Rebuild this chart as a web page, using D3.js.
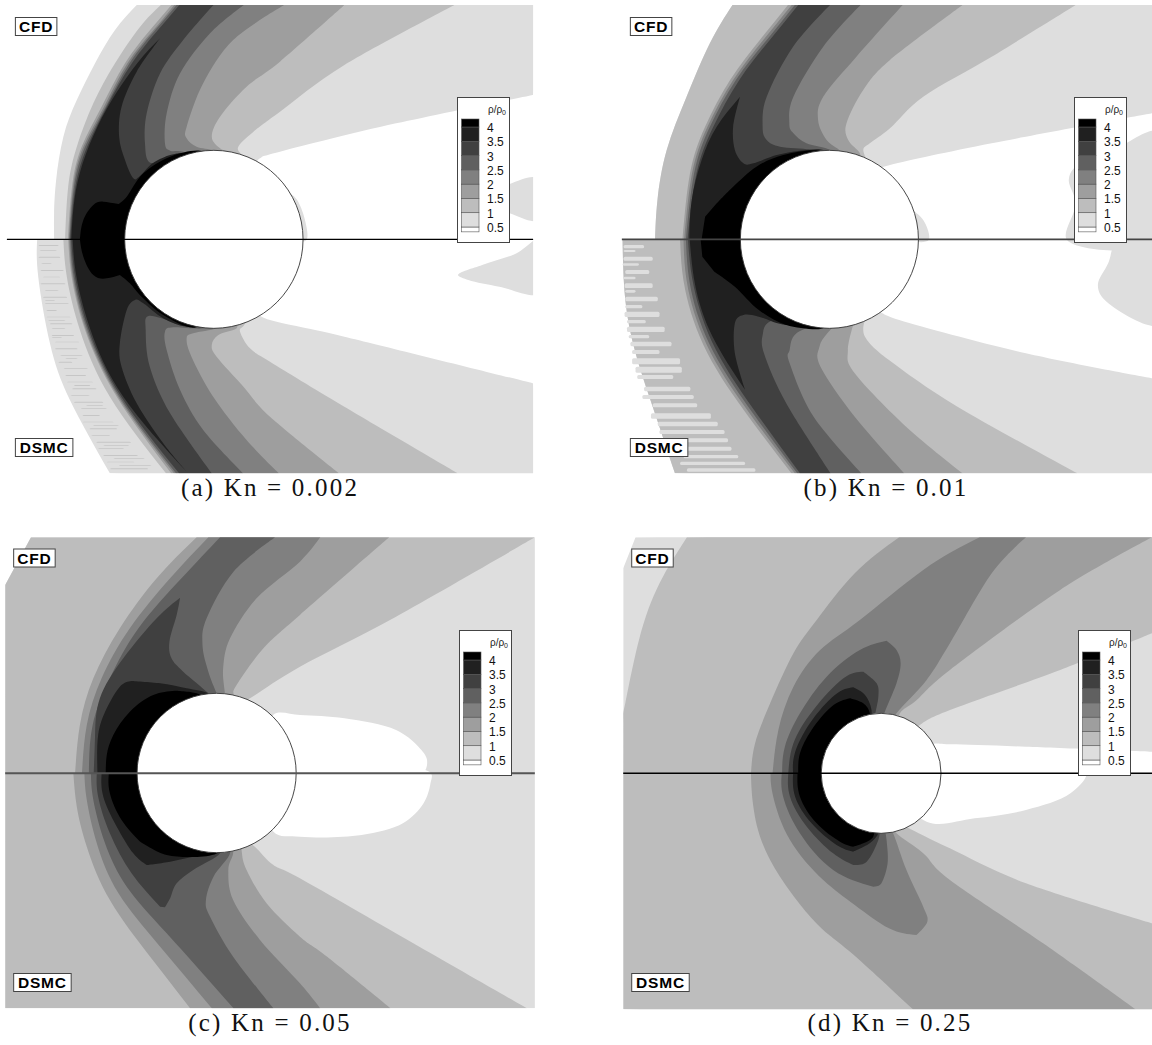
<!DOCTYPE html>
<html><head><meta charset="utf-8">
<script src="https://cdnjs.cloudflare.com/ajax/libs/d3/7.8.5/d3.min.js"></script>
<style>html,body{margin:0;padding:0;background:#fff}svg{display:block}</style>
</head><body><svg id="c" width="1152" height="1045"></svg>
<script>
// Density levels and their greys
const levels=[0.5,1,1.5,2,2.5,3,3.5,4];
const greys=["#ffffff","#dedede","#bdbdbd","#9e9e9e","#808080","#606060","#404040","#202020","#000000"];
const legendTicks=["4","3.5","3","2.5","2","1.5","1","0.5"];
// Contour rows: [level, shock-side curve, wake-side curve, optional corner]; digitised grid units
const aTop=[
[0.5,[[397,15],[334,90],[276,190],[223,300],[184,410],[163,540],[157,640],[157,718]],[[1548,285],[1150,370],[813,455],[755,475],[740,500]],[[1600,0]]],
[1,[[467,15],[407,80],[334,190],[271,310],[223,440],[198,560],[189,718]],[[1320,15],[1000,195],[813,335],[736,395],[692,440],[702,465],[720,490]]],
[1.5,[[498,15],[440,85],[363,190],[295,320],[237,440],[209,560],[197,718]],[[1000,15],[813,185],[716,260],[639,350],[615,410],[639,445],[668,460],[680,490]]],
[2,[[506,15],[450,85],[370,190],[302,320],[242,440],[212,560],[200,718]],[[825,15],[677,120],[590,250],[542,380],[542,415],[571,440],[620,452],[640,480]]],
[2.5,[[513,15],[455,85],[376,190],[307,320],[247,440],[215,560],[202,718]],[[708,15],[610,100],[523,220],[484,340],[479,430],[494,452],[532,455],[600,480]]],
[3,[[521,15],[463,85],[383,190],[310,320],[253,440],[219,560],[204,718]],[[620,15],[532,120],[465,220],[426,340],[421,430],[436,488],[503,470],[600,480]]],
[3.5,[[465,115],[402,185],[337,280],[283,380],[240,490],[216,600],[207,718]],[[465,115],[397,215],[353,320],[346,410],[363,480],[387,535],[407,527],[450,485],[523,460],[600,480]]],
[4,[[344,612],[300,605],[271,615],[242,660],[232,718]],[[344,612],[368,590],[416,520],[494,470],[581,452],[620,490]]]
];
const aBottom=[
[0.5,[[108,718],[111,830],[145,1030],[203,1200],[319,1420]],[[1548,1150],[1000,1010],[784,960],[740,930]],[[1600,1500]]],
[1,[[184,718],[194,830],[232,990],[319,1190],[482,1420]],[[1330,1420],[1000,1220],[784,1085],[726,1045],[697,995],[707,978],[720,960]]],
[1.5,[[198,718],[208,830],[247,990],[339,1190],[497,1420]],[[985,1420],[784,1250],[707,1160],[629,1070],[615,1035],[634,1005],[687,985],[680,960]]],
[2,[[201,718],[211,830],[250,990],[343,1190],[505,1420]],[[810,1420],[716,1320],[619,1190],[556,1070],[542,1015],[561,1000],[629,985],[640,960]]],
[2.5,[[204,718],[214,830],[254,990],[347,1190],[511,1420]],[[706,1420],[590,1290],[523,1170],[484,1050],[479,995],[503,982],[590,985],[600,960]]],
[3,[[207,718],[218,830],[258,990],[352,1190],[520,1420]],[[615,1420],[494,1240],[435,1100],[423,990],[431,948],[500,965],[560,980],[600,960]]],
[3.5,[[211,718],[222,830],[263,990],[358,1190],[542,1415]],[[542,1415],[474,1330],[397,1210],[353,1100],[348,1030],[368,930],[392,900],[416,910],[474,955],[542,980],[600,960]]],
[4,[[232,718],[242,770],[271,825],[310,835],[348,825]],[[348,825],[377,850],[411,890],[474,945],[560,983],[620,950]]]
];
const bTop=[
[0.5,[[343,15],[277,130],[209,290],[151,450],[124,600],[117,718]],[[1568,340],[1100,430],[803,495],[770,515]],[[1620,0]]],
[1,[[343,15],[277,130],[209,290],[151,450],[124,600],[117,718]],[[1345,15],[1100,170],[900,290],[803,385],[744,430],[725,450],[740,490]]],
[1.5,[[505,15],[423,120],[336,240],[263,380],[219,520],[197,718]],[[1015,15],[803,180],[725,270],[676,370],[681,420],[715,460],[710,490]]],
[2,[[516,15],[433,120],[345,240],[270,380],[225,520],[202,718]],[[840,15],[705,170],[608,290],[593,360],[618,420],[657,452],[670,480]]],
[2.5,[[525,15],[443,120],[353,240],[277,380],[231,520],[207,718]],[[717,15],[608,140],[521,290],[509,370],[521,400],[559,430],[628,450],[640,480]]],
[3,[[535,15],[452,120],[363,240],[287,380],[238,520],[212,718]],[[628,15],[520,140],[443,290],[431,380],[443,420],[482,440],[569,450],[600,480]]],
[3.5,[[365,290],[297,380],[253,480],[224,600],[217,718]],[[365,290],[345,380],[350,450],[375,490],[404,490],[472,465],[540,452],[608,450],[620,480]]],
[4,[[297,610],[263,650],[253,718]],[[297,610],[345,560],[413,500],[491,465],[589,451],[620,480]]]
];
const bBottom=[
[0.5,[[22,718],[30,900],[60,1060],[110,1220],[175,1420]],[[1568,1135],[1200,1060],[830,960],[770,925]],[[1620,1500]]],
[1,[[22,718],[30,900],[60,1060],[110,1220],[175,1420]],[[1350,1420],[1000,1220],[800,1080],[730,1010],[730,960]]],
[1.5,[[190,718],[205,870],[270,1060],[390,1250],[515,1420]],[[1015,1420],[850,1280],[700,1120],[680,1050],[700,960]]],
[2,[[200,718],[214,870],[280,1060],[400,1250],[525,1420]],[[845,1420],[700,1250],[600,1100],[597,1040],[620,1000],[660,960]]],
[2.5,[[207,718],[222,870],[287,1055],[410,1250],[532,1420]],[[720,1420],[580,1250],[510,1090],[510,1050],[530,1000],[620,960]]],
[3,[[213,718],[230,860],[295,1050],[420,1250],[540,1420]],[[630,1420],[500,1210],[435,1060],[432,1000],[445,970],[480,960],[600,960]]],
[3.5,[[218,718],[235,860],[285,1010],[380,1170]],[[380,1170],[350,1060],[350,970],[375,945],[420,950],[500,975],[600,960]]],
[4,[[250,718],[255,770],[290,815]],[[290,815],[350,860],[420,930],[500,975],[600,987],[630,960]]]
];
const cTop=[
[0.5,[[90,22],[15,165],[15,730]],[[1568,22],[1568,730]]],
[1,[[90,22],[15,165],[15,730]],[[1553,22],[1150,260],[871,410],[726,505],[700,520]]],
[1.5,[[571,22],[455,145],[348,295],[271,445],[232,585],[218,730]],[[1130,22],[871,255],[765,355],[687,465],[678,495],[680,520]]],
[2,[[605,22],[494,145],[377,295],[295,445],[252,585],[238,730]],[[930,22],[871,95],[745,205],[668,325],[648,415],[653,490],[655,520]]],
[2.5,[[639,22],[527,145],[402,295],[319,445],[269,585],[258,730]],[[799,22],[678,125],[600,265],[588,345],[605,425],[629,490],[640,520]]],
[3,[[523,203],[455,265],[358,385],[290,505],[276,615],[272,730]],[[523,203],[513,255],[492,335],[498,385],[532,425],[605,490],[620,520]]],
[3.5,[[382,453],[348,470],[310,535],[285,615],[283,730]],[[382,453],[465,460],[542,475],[605,490],[620,520]]],
[4,[[508,482],[445,495],[377,545],[329,615],[310,675],[307,730]],[[508,482],[571,490],[620,520]]]
];
const cBottom=[
[0.5,[[15,730],[15,1435]],[[1568,1435],[1568,730]]],
[1,[[15,730],[15,1435]],[[1530,1435],[1200,1240],[871,1045],[794,1005],[740,950],[700,920]]],
[1.5,[[213,730],[223,830],[252,950],[319,1110],[436,1280],[552,1435]],[[1135,1435],[950,1280],[871,1220],[774,1120],[716,1020],[702,965],[705,930]]],
[2,[[245,730],[252,810],[281,940],[344,1090],[465,1250],[615,1435]],[[930,1435],[871,1360],[755,1230],[677,1110],[663,1020],[677,970],[670,930]]],
[2.5,[[264,730],[271,810],[305,940],[368,1070],[484,1210],[678,1435]],[[794,1435],[677,1280],[610,1160],[598,1110],[620,1040],[668,970],[650,930]]],
[3,[[281,730],[285,800],[319,910],[382,1030],[465,1130]],[[479,1132],[494,1105],[513,1060],[561,1020],[639,970],[620,930]]],
[3.5,[[295,730],[300,800],[339,890],[387,970],[426,1005]],[[426,1005],[494,995],[561,980],[639,965],[640,930]]],
[4,[[316,730],[319,790],[353,870],[407,935]],[[407,935],[484,975],[581,980],[639,965],[640,930]]]
];
const dTop=[
[0.5,[[60,22],[24,115],[24,730]],[[1568,665],[1200,650],[978,643],[929,642],[900,660]],[[1620,0]]],
[1,[[210,22],[130,160],[70,330],[30,520],[24,570],[24,730]],[[1568,310],[1300,420],[978,540],[890,585],[860,620]],[[1620,0]]],
[1.5,[[830,22],[700,130],[589,270],[521,370],[453,520],[409,640],[397,730]],[[1568,22],[1300,180],[978,420],[881,510],[832,550],[830,600]]],
[2,[[1065,22],[900,120],[715,270],[599,360],[521,470],[477,600],[460,730]],[[1200,22],[1100,130],[978,340],[910,450],[822,550],[800,600]]],
[2.5,[[793,332],[715,360],[618,440],[540,550],[496,650],[488,730]],[[793,332],[822,360],[834,400],[822,460],[783,560],[780,600]]],
[3,[[725,425],[667,445],[579,540],[521,640],[506,730]],[[725,425],[764,460],[769,500],[759,560],[760,600]]],
[3.5,[[696,472],[642,495],[569,580],[525,670],[520,730]],[[696,472],[730,495],[749,540],[745,600]]],
[4,[[686,505],[632,530],[574,600],[540,670],[535,730]],[[686,505],[725,520],[744,550],[740,600]]]
];
const dBottom=[
[0.5,[[24,730],[24,1438]],[[1568,1438],[1568,730]]],
[1,[[24,730],[24,1438]],[[1568,1180],[1200,1060],[978,955],[850,890],[820,870]],[[1620,1500]]],
[1.5,[[397,730],[404,830],[453,990],[579,1170],[680,1260],[870,1438]],[[1520,1438],[1250,1240],[978,1050],[900,970],[822,910],[810,880]]],
[2,[[454,730],[462,800],[511,930],[608,1050],[700,1125],[800,1195],[880,1215]],[[880,1215],[912,1175],[900,1130],[851,1020],[812,910],[790,880]]],
[2.5,[[487,730],[491,800],[540,910],[637,1020],[754,1070]],[[754,1070],[778,1060],[796,1000],[793,930],[785,880]]],
[3,[[506,730],[511,800],[560,890],[637,970],[696,1005]],[[696,1005],[735,995],[769,930],[775,880]]],
[3.5,[[520,730],[526,800],[574,880],[647,945],[696,965]],[[696,965],[744,940],[769,910],[765,880]]],
[4,[[533,730],[540,800],[589,880],[657,935],[696,950]],[[696,950],[725,940],[754,920],[760,880]]]
];
// Closed patches off the main nesting: [value, outline]
const aPatches=[
[0.75,[[830,580],[855,590],[880,640],[890,720],[860,720]]],
[0.75,[[1480,552],[1560,535],[1560,660],[1480,640],[1400,600]]],
[0.75,[[1330,825],[1400,795],[1500,760],[1570,715],[1570,880],[1450,860],[1360,840]]]
];
const bPatches=[
[0.75,[[860,630],[900,660],[916,720],[870,720]]],
[0.75,[[1590,395],[1440,460],[1340,505],[1325,540],[1345,610],[1320,720],[1590,720]]],
[0.75,[[1470,715],[1440,790],[1410,855],[1430,900],[1590,975],[1590,715]]]
];
const cPatches=[
[0.25,[[793,555],[871,555],[1000,565],[1150,600],[1215,650],[1240,690],[1225,732],[780,732]]],
[0.25,[[794,905],[871,920],[1050,915],[1170,880],[1230,820],[1250,760],[1250,728],[780,728]]]
];
const dPatches=[
[0.25,[[800,728],[1375,728],[1330,790],[1200,840],[1050,865],[910,875]]]
];
// Streaky DSMC noise: [x start, x end, y, thickness] in grid units
const aStreaks=[[112,170,735,3],[115,165,750,2],[112,175,770,3],[120,150,790,2],[118,185,810,3],[125,175,830,2],[118,190,850,3],[130,170,870,2],[125,195,890,3],[130,200,910,2],[135,165,930,3],[135,205,950,2],[145,210,970,3],[150,190,985,2],[150,215,1005,3],[160,230,1025,2],[160,225,1045,3],[175,240,1065,2],[170,210,1085,3],[185,255,1105,2],[190,250,1125,3],[195,270,1145,2],[210,280,1165,3],[205,260,1185,2],[215,300,1205,3],[235,310,1225,2],[240,290,1245,3],[240,330,1265,2],[260,340,1285,3],[265,320,1305,2],[280,380,1325,3],[285,360,1345,2],[300,400,1365,3],[310,390,1385,2],[320,430,1405,3],[150,180,1012,2],[190,225,1075,2],[215,262,1155,3],[250,300,1215,2],[270,345,1275,2],[300,375,1335,2],[330,420,1375,2],[345,440,1395,2],[130,160,900,2],[140,190,960,2]];
const bStreaks=[[25,85,735,10],[25,60,750,6],[25,110,770,12],[22,70,790,7],[30,100,810,12],[25,60,830,8],[28,110,850,14],[30,60,870,8],[30,125,890,14],[30,80,915,10],[28,130,935,16],[35,90,960,10],[35,145,980,16],[40,100,1005,10],[45,165,1025,14],[50,130,1050,12],[50,190,1075,18],[60,195,1100,18],[65,170,1125,12],[85,220,1160,14],[80,230,1185,12],[110,240,1210,12],[105,280,1240,16],[125,300,1265,14],[130,320,1290,12],[150,330,1315,12],[165,340,1340,12],[200,360,1365,10],[190,380,1385,10],[210,410,1405,10]];
// Panels
const panels=[
{cap:"(a) Kn = 0.002",crop:[0,0,540,500],frame:[20,15,1548,1420],mid:718,top:aTop,bottom:aBottom,patches:aPatches,streaks:aStreaks,streakFill:"#c6c6c6",cyl:[621,718,259,267],legend:[457,97],capPos:[270,496],lineCol:"#000",lineW:1.4},
{cap:"(b) Kn = 0.01",crop:[615,0,537,500],frame:[20,15,1568,1420],mid:718,top:bTop,bottom:bBottom,patches:bPatches,streaks:bStreaks,streakFill:"#dedede",cyl:[626,718,260,267],legend:[1074,97],capPos:[886,496],lineCol:"#444",lineW:1.6},
{cap:"(c) Kn = 0.05",crop:[0,530,540,515],frame:[15,22,1553,1435],mid:730,top:cTop,bottom:cBottom,patches:cPatches,streaks:[],streakFill:"#dedede",cyl:[629,729,231,239],legend:[459,630],capPos:[270,1031],lineCol:"#555",lineW:2},
{cap:"(d) Kn = 0.25",crop:[615,530,537,515],frame:[24,22,1568,1438],mid:730,top:dTop,bottom:dBottom,patches:dPatches,streaks:[],streakFill:"#dedede",cyl:[777,730,175,180],legend:[1078,630],capPos:[890,1031],lineCol:"#000",lineW:1.5}
];
const fill=d3.scaleThreshold().domain(levels).range(greys);
const svg=d3.select("#c");
const defs=svg.append("defs");
panels.forEach((p,i)=>{
  const [cx,cy,cw,ch]=p.crop;
  const x=d3.scaleLinear().domain([0,1568]).range([cx,cx+cw]);
  const y=d3.scaleLinear().domain([0,ch*3]).range([cy,cy+ch]);
  const base=d3.line().x(d=>x(d[0])).y(d=>y(d[1]));
  const smooth=a=>base.curve(a.length>=4?d3.curveNatural:d3.curveLinear)(a);
  const line=a=>base.curve(a.length>=3?d3.curveCatmullRom.alpha(0):d3.curveLinear)(a);
  const closed=d3.line().x(d=>x(d[0])).y(d=>y(d[1])).curve(d3.curveCatmullRomClosed.alpha(0.5));
  const pts=a=>(a||[]).map(q=>"L"+x(q[0])+","+y(q[1])).join("");
  const centre=()=>"L"+x(p.cyl[0])+","+y(p.mid);
  const rowPath=(row,half)=>half==="top"
    ? smooth(row[1])+centre()+"L"+line(row[2].slice().reverse()).slice(1)+pts(row[3])+"Z"
    : smooth(row[1])+pts(row[3])+"L"+line(row[2]).slice(1)+centre()+"Z";
  const [fx0,fy0,fx1,fy1]=p.frame;
  const g=svg.append("g");
  [["top",fy0,p.mid],["bottom",p.mid,fy1]].forEach(([half,y0,y1])=>{
    const id="clip"+i+half;
    defs.append("clipPath").attr("id",id).append("rect")
      .attr("x",x(fx0)).attr("y",y(y0)).attr("width",x(fx1)-x(fx0)).attr("height",y(y1)-y(y0));
    const h=g.append("g").attr("clip-path",`url(#${id})`);
    h.selectAll("path.lvl").data(p[half]).join("path").attr("class","lvl")
      .attr("fill",d=>fill(d[0])).attr("d",d=>rowPath(d,half));
    if(half==="bottom"){
      h.selectAll("rect.s").data(p.streaks).join("rect").attr("class","s")
        .attr("x",d=>x(d[0])).attr("width",d=>x(d[1])-x(d[0]))
        .attr("y",d=>y(d[2])).attr("height",d=>y(d[3])-cy).attr("rx",1.5).attr("fill",p.streakFill);
    }
  });
  const idf="clipf"+i;
  defs.append("clipPath").attr("id",idf).append("rect")
    .attr("x",x(fx0)).attr("y",y(fy0)).attr("width",x(fx1)-x(fx0)).attr("height",y(fy1)-y(fy0));
  g.append("g").attr("clip-path",`url(#${idf})`).selectAll("path").data(p.patches).join("path")
    .attr("fill",d=>fill(d[0])).attr("d",d=>closed(d[1]));
  g.append("ellipse").attr("cx",x(p.cyl[0])).attr("cy",y(p.cyl[1]))
    .attr("rx",x(p.cyl[2])-x(0)).attr("ry",y(p.cyl[3])-y(0))
    .attr("fill","#fff").attr("stroke","#333").attr("stroke-width",0.9);
  g.append("line").attr("x1",x(fx0)).attr("x2",x(fx1)).attr("y1",y(p.mid)).attr("y2",y(p.mid))
    .attr("stroke",p.lineCol).attr("stroke-width",p.lineW);
  [["CFD",cy+(i<2?17.5:19),41.5],["DSMC",cy+(i<2?438.5:443.5),57.5]].forEach(([t,by,bw])=>{
    const bx=x(fx0)+8.5;
    g.append("rect").attr("x",bx).attr("y",by).attr("width",bw).attr("height",18).attr("fill","#fff").attr("stroke","#444").attr("stroke-width",1);
    g.append("text").attr("x",bx+bw/2).attr("y",by+14.5).attr("text-anchor","middle")
      .attr("font-family","Liberation Sans").attr("font-weight","bold").attr("font-size",15.5).attr("letter-spacing",0.8).attr("fill","#000").text(t);
  });
  const [lx,ly]=p.legend;
  const lg=svg.append("g").attr("transform",`translate(${lx},${ly})`);
  lg.append("rect").attr("x",0.5).attr("y",0.5).attr("width",52).attr("height",145).attr("fill","#fff").attr("stroke","#444").attr("stroke-width",1);
  const ty=d3.scaleLinear().domain([4,0.5]).range([30,130]);
  const edges=[0.33].concat(levels,[4.28]);
  lg.selectAll("rect.sw").data(d3.range(9)).join("rect").attr("class","sw")
    .attr("x",4.5).attr("width",17.5).attr("y",k=>ty(edges[k+1])).attr("height",k=>ty(edges[k])-ty(edges[k+1]))
    .attr("fill",k=>greys[k]).attr("stroke","#555").attr("stroke-width",0.6);
  lg.selectAll("text.t").data(legendTicks).join("text").attr("class","t")
    .attr("x",30).attr("y",d=>ty(+d)+5)
    .attr("font-family","Liberation Sans").attr("font-size",12).attr("fill","#111").text(d=>d);
  const tt=lg.append("text").attr("x",49).attr("y",16).attr("text-anchor","end")
    .attr("font-family","Liberation Sans").attr("font-size",10).attr("fill","#222");
  tt.append("tspan").text("ρ/ρ");
  tt.append("tspan").attr("font-size",7).attr("dy",2).text("0");
  svg.append("text").attr("x",p.capPos[0]).attr("y",p.capPos[1]).attr("text-anchor","middle")
    .attr("font-family","Liberation Serif").attr("font-size",25).attr("letter-spacing",2.2).attr("fill","#111").text(p.cap);
});
</script></body></html>
